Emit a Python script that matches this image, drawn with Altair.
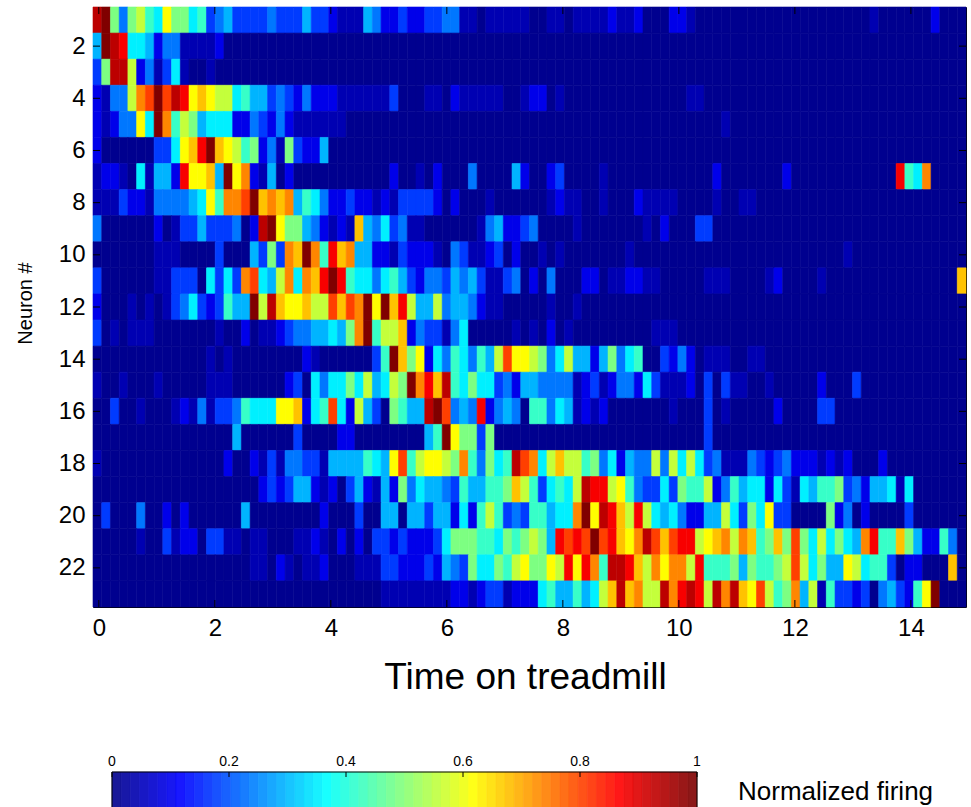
import altair as alt
import pandas as pd

# ---------------- data ----------------
N_COLS = 100
T_START = -0.1      # left edge of first time bin
T_BIN = 0.1505      # width of one time bin

# colour level codes used in the row strings below -> normalized firing value
LEVEL_CODES = "0123456789abcdefg"
LEVEL_VALUES = [0.0, 0.035, 0.09, 0.17, 0.23, 0.29, 0.35, 0.42, 0.49,
                0.56, 0.62, 0.68, 0.74, 0.81, 0.88, 0.94, 1.0]

# one string per neuron (1..23), one character per time bin (100 bins)
NEURON_FIRING = [
    "fg848976a8" "8673453333" "4333533211" "1542232233" "4411011111" "0011011112" "1120002210" "0000000000" "0000000001" "0000002000",
    "5gfe665244" "1111200000" + "0" * 80,
    "38ff924136" "1001000000" + "0" * 80,
    "21449cdgdf" "eaba996755" "3432422211" "1111300011" "0211111001" "2201000000" "0000000011" + "0" * 30,
    "21244a6gc7" "9856662243" "2421111110" + "0" * 40 + "0010000000" + "0" * 20,
    "2000000336" "abegba9782" "4183225000" + "0" * 70,
    "1221061552" "eaab5gac21" "5020000000" "0000200102" "0004000052" "0023000010" "0000000000" "0200000002" "0000000000" "00e76c0000",
    "1113221444" "456a7ccdgb" "cbc5764223" "2212133332" "0200010000" "0012110010" "0021111000" "0100110000" + "0" * 20,
    "4000000201" "335333402f" "ga88542121" "b546341100" "0000145223" "4000010000" "0001020003" "3000000000" + "0" * 20,
    "0000000111" "0000300053" "83cbgc7ebc" "5522132221" "0431123020" "0101000000" "0100000000" "0000000000" "0000001000" "0000000000",
    "3000000113" "3306363cd6" "59c6cbege7" "6646753244" "3545311340" "2040002201" "1221100000" "1110000120" "0001000000" "000000000b",
    "2000101013" "46323755g9" "fbaab99dbd" "cgagbe9559" "4554211000" "0010010000" + "0" * 40,
    "3010111000" "0000100201" "1234455658" "cg799b2433" "1460000010" "1020100000" "0000111000" + "0" * 30,
    "0000000000" "0001010000" "0000210000" "0037gb8a26" "4764759daa" "9846955258" "4670032420" "1110011000" + "0" * 20,
    "1001000100" "0001110000" "0023064668" "695698gceb" "f768663425" "5444412312" "4426311120" "3031100100" "0002000300" "0000000000",
    "0030010001" "2141334766" "6aab267d62" "95308755fg" "d454e24540" "7746512120" "0000001000" "3010000020" "0003300000" "0000000000",
    "0000000000" "0000005000" "0003000022" "0000000057" "ga88380000" + "0" * 20 + "3000000000" + "0" * 20,
    "1000000000" "0000020021" "3144331555" "5765ad79aa" "98c74867fd" "c69b997846" "2544949696" "3411143234" "2221212000" "2000000000",
    "0000000000" "0000000002" "3235521203" "5215284655" "43755778b9" "736769fee9" "a743363877" "9247566263" "1657783425" "5616000000",
    "0300040020" "2000000500" "0000002000" "3005505535" "5262797343" "77566cgafe" "b9e9656422" "5596386a33" "0000824020" "0003000000",
    "0000010031" "2203311011" "0001121020" "2033232223" "6888776878" "985ededgde" "bacfdbdee9" "abc9cb78b8" "d8696865ce" "77b8522740",
    "0000000000" "0000000011" "0210112000" "1113322232" "543866879a" "88a9eaec7f" "feb9cacc9e" "7778587789" "d96855a967" "73022000b0",
    "0" * 30 + "0001111111" "1221233122" "267557569b" "fbc99fcefe" "9fcfbad978" "c591733230" "45327ag000",
]

X_TICKS = [0, 2, 4, 6, 8, 10, 12, 14]
Y_TICKS = [2, 4, 6, 8, 10, 12, 14, 16, 18, 20, 22]
CB_TICKS = [0, 0.2, 0.4, 0.6, 0.8, 1]
CB_LABELS = ["0", "0.2", "0.4", "0.6", "0.8", "1"]
CB_STEPS = 64

# MATLAB "jet" colormap anchors
JET_STOPS = [0.0, 0.111, 0.365, 0.619, 0.873, 1.0]
JET_COLORS = ["#00008f", "#0000ff", "#00ffff", "#ffff00", "#ff0000", "#800000"]

# ---------------- tables ----------------
cells = []
for i, row in enumerate(NEURON_FIRING):
    row = row.ljust(N_COLS, "0")[:N_COLS]
    for j, ch in enumerate(row):
        cells.append({
            "t0": T_START + j * T_BIN,
            "t1": T_START + (j + 1) * T_BIN,
            "n0": i + 0.5,
            "n1": i + 1.5,
            "rate": LEVEL_VALUES[LEVEL_CODES.index(ch)],
        })
heat_df = pd.DataFrame(cells)

cb_df = pd.DataFrame({"k": list(range(CB_STEPS))})
cb_df["c0"] = cb_df["k"] / CB_STEPS
cb_df["c1"] = (cb_df["k"] + 1) / CB_STEPS
cb_df["val"] = cb_df["k"] / (CB_STEPS - 1)

W, H = 873, 600
FONT = "Liberation Sans, Arial, sans-serif"

xscale = alt.Scale(domain=[T_START, T_START + N_COLS * T_BIN], nice=False, zero=False)
yscale = alt.Scale(domain=[0.5, 23.5], nice=False, zero=False, reverse=True)
jet = alt.Scale(domain=JET_STOPS, range=JET_COLORS, interpolate="rgb")
cbscale = alt.Scale(domain=[0, 1], range=[19, 604], nice=False, zero=False)

heat = alt.Chart(heat_df).mark_rect(strokeWidth=0.6).encode(
    x=alt.X("t0:Q", scale=xscale, axis=alt.Axis(
        values=X_TICKS, format="d", ticks=False, domain=False, grid=False,
        labelFont=FONT, labelFontSize=24, labelPadding=9, labelColor="black",
        title="Time on treadmill", titleFont=FONT, titleFontSize=37,
        titleFontWeight="normal", titleColor="black",
        titleX=432, titleY=70, titleBaseline="middle")),
    x2="t1:Q",
    y=alt.Y("n0:Q", scale=yscale, axis=alt.Axis(
        values=Y_TICKS, format="d", ticks=False, domain=False, grid=False,
        labelFont=FONT, labelFontSize=24, labelPadding=8, labelColor="black",
        title="Neuron #", titleFont=FONT, titleFontSize=20,
        titleFontWeight="normal", titleColor="black",
        titleX=-68, titleY=296, titleBaseline="middle")),
    y2="n1:Q",
    color=alt.Color("rate:Q", scale=jet, legend=None),
    stroke=alt.Stroke("rate:Q", scale=jet, legend=None),
)

xt = pd.DataFrame({"t": X_TICKS})
yt = pd.DataFrame({"n": Y_TICKS})
TL = 7
bottom_ticks = alt.Chart(xt).mark_rule(color="black", strokeWidth=1).encode(
    x=alt.X("t:Q", scale=xscale, axis=None), y=alt.value(H), y2=alt.value(H - TL))
top_ticks = alt.Chart(xt).mark_rule(color="black", strokeWidth=1).encode(
    x=alt.X("t:Q", scale=xscale, axis=None), y=alt.value(0), y2=alt.value(TL))
left_ticks = alt.Chart(yt).mark_rule(color="black", strokeWidth=1).encode(
    y=alt.Y("n:Q", scale=yscale, axis=None), x=alt.value(0), x2=alt.value(TL))
right_ticks = alt.Chart(yt).mark_rule(color="black", strokeWidth=1).encode(
    y=alt.Y("n:Q", scale=yscale, axis=None), x=alt.value(W), x2=alt.value(W - TL))

CB_TOP = 765
cb_rects = alt.Chart(cb_df).mark_rect(opacity=0.9, strokeWidth=0.5).encode(
    x=alt.X("c0:Q", scale=cbscale, axis=None), x2="c1:Q",
    y=alt.value(CB_TOP), y2=alt.value(CB_TOP + 45),
    color=alt.Color("val:Q", scale=jet, legend=None),
    stroke=alt.Stroke("val:Q", scale=jet, legend=None),
)
cb_frame = alt.Chart(pd.DataFrame({"a": [0], "b": [1]})).mark_rect(
    fillOpacity=0, stroke="black", strokeWidth=1).encode(
    x=alt.X("a:Q", scale=cbscale, axis=None), x2="b:Q",
    y=alt.value(CB_TOP), y2=alt.value(CB_TOP + 50))
cb_tk = pd.DataFrame({"v": CB_TICKS, "lab": CB_LABELS})
cb_ticks = alt.Chart(cb_tk).mark_rule(color="black", strokeWidth=1).encode(
    x=alt.X("v:Q", scale=cbscale, axis=None),
    y=alt.value(CB_TOP), y2=alt.value(CB_TOP + 5))
cb_labels = alt.Chart(cb_tk).mark_text(
    font=FONT, fontSize=14, baseline="middle", align="center", color="black").encode(
    x=alt.X("v:Q", scale=cbscale, axis=None), y=alt.value(755), text="lab:N")
cb_title = alt.Chart(pd.DataFrame({"t": ["Normalized firing"]})).mark_text(
    font=FONT, fontSize=26, align="left", baseline="middle", color="black").encode(
    x=alt.value(645), y=alt.value(785), text="t:N")

chart = alt.layer(
    heat, top_ticks, bottom_ticks, left_ticks, right_ticks,
    cb_rects, cb_frame, cb_ticks, cb_labels, cb_title,
).resolve_scale(x="independent", y="independent").properties(
    width=W, height=H,
    autosize=alt.AutoSizeParams(type="none"),
    padding={"left": 93, "top": 7, "right": 5, "bottom": 200},
    background="white",
).configure_view(stroke="black", strokeWidth=1)

chart.save("out.html", embed_options={"renderer": "svg", "actions": False})
